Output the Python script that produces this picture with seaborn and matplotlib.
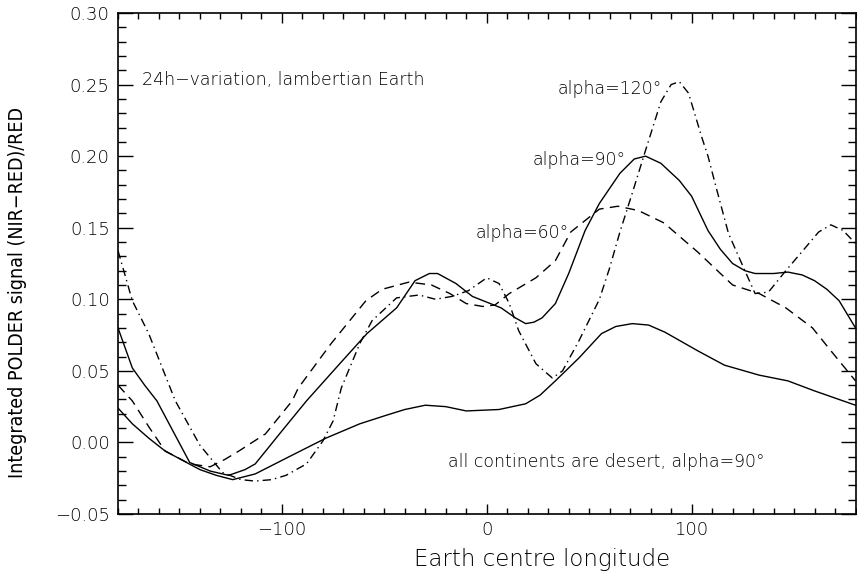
import matplotlib
matplotlib.use("Agg")
import matplotlib.pyplot as plt
import seaborn as sns
import numpy as np
import pandas as pd
from matplotlib.ticker import MultipleLocator, FuncFormatter

# ---- data ----
x_a90 = [-180, -173, -167, -161, -145, -135, -126, -118, -113, -100, -88, -73, -58.5, -44, -35,
         -28, -24, -15, -7, 0, 7, 14, 19, 23, 27, 33.5, 40, 48, 55, 65, 72, 77.5, 85, 94, 100,
         108, 114, 120, 126, 131, 140, 147, 154, 160, 166, 172, 180]
y_a90 = [0.080, 0.052, 0.040, 0.029, -0.014, -0.020, -0.023, -0.019, -0.015, 0.008, 0.029, 0.053,
         0.076, 0.094, 0.113, 0.118, 0.118, 0.111, 0.102, 0.098, 0.094, 0.087, 0.083, 0.084, 0.087,
         0.097, 0.118, 0.148, 0.167, 0.188, 0.198, 0.200, 0.195, 0.183, 0.172, 0.148, 0.135, 0.125,
         0.120, 0.118, 0.118, 0.119, 0.117, 0.113, 0.107, 0.099, 0.080]

x_a60 = [-180, -173, -165, -157, -145, -135, -128, -121, -108, -95, -92, -76, -59, -51, -38, -27,
         -18, -10, -2, 4, 11, 24, 33.5, 41, 55, 64, 74, 87, 90, 103, 120, 133, 146, 159, 168, 180]
y_a60 = [0.040, 0.029, 0.011, -0.006, -0.015, -0.017, -0.012, -0.006, 0.006, 0.029, 0.038, 0.069,
         0.099, 0.107, 0.112, 0.110, 0.104, 0.097, 0.095, 0.096, 0.104, 0.115, 0.127, 0.147, 0.163,
         0.165, 0.162, 0.153, 0.149, 0.133, 0.110, 0.104, 0.094, 0.080, 0.064, 0.043]

x_a120 = [-180, -173, -165, -152, -140, -129, -120, -113, -105, -98, -88, -80, -75, -71, -62, -56,
          -44, -33, -25, -17, -9, 0, 6, 11, 15.6, 24, 32, 37, 45, 55, 60, 65, 71, 77.5, 85, 90,
          94, 98.5, 105, 108, 112, 118, 126, 131, 137.5, 146, 155.5, 162, 168, 174, 180]
y_a120 = [0.134, 0.099, 0.076, 0.029, -0.002, -0.021, -0.026, -0.027, -0.026, -0.023, -0.015,
          0.001, 0.015, 0.038, 0.069, 0.085, 0.101, 0.103, 0.100, 0.102, 0.106, 0.115, 0.111, 0.097,
          0.078, 0.055, 0.045, 0.050, 0.071, 0.100, 0.122, 0.147, 0.174, 0.204, 0.238, 0.250, 0.252,
          0.244, 0.213, 0.200, 0.178, 0.146, 0.120, 0.104, 0.105, 0.120, 0.136, 0.147, 0.152, 0.148,
          0.139]

x_des = [-180, -173, -165, -157, -140, -132, -124, -113, -96.5, -78.5, -62, -49, -40, -30, -20,
         -10, 6, 19, 26, 33.5, 45, 56, 63, 71, 79, 87, 103, 116, 133, 147, 160, 170, 180]
y_des = [0.024, 0.013, 0.003, -0.006, -0.019, -0.023, -0.026, -0.022, -0.010, 0.003, 0.013, 0.019,
         0.023, 0.026, 0.025, 0.022, 0.023, 0.027, 0.033, 0.043, 0.059, 0.076, 0.081, 0.083, 0.082,
         0.077, 0.064, 0.054, 0.047, 0.043, 0.036, 0.031, 0.026]

x_major = [-100, 0, 100]
y_major = [-0.05, 0.00, 0.05, 0.10, 0.15, 0.20, 0.25, 0.30]

title_text = "24h\u2212variation, lambertian Earth"
lab_a120 = "alpha=120\u00b0"
lab_a90 = "alpha=90\u00b0"
lab_a60 = "alpha=60\u00b0"
lab_des = "all continents are desert, alpha=90\u00b0"
xlabel = "Earth centre longitude"
ylabel = "Integrated POLDER signal (NIR\u2212RED)/RED"

# ---- figure ----
sns.set_style("ticks")
plt.rcParams["font.family"] = ["DejaVu Sans"]
plt.rcParams["text.color"] = "black"
plt.rcParams["axes.labelcolor"] = "black"
plt.rcParams["xtick.color"] = "black"
plt.rcParams["ytick.color"] = "black"

fig = plt.figure(figsize=(8.57, 5.72), dpi=100)
ax = fig.add_axes([118 / 857, 1 - 514 / 572, (855.5 - 118) / 857, (514 - 13) / 572])

lw = 1.0
sns.lineplot(x=x_a90, y=y_a90, ax=ax, color="black", lw=lw, estimator=None, sort=False)
sns.lineplot(x=x_a60, y=y_a60, ax=ax, color="black", lw=lw, estimator=None, sort=False,
             linestyle=(0, (7, 4.5)))
sns.lineplot(x=x_a120, y=y_a120, ax=ax, color="black", lw=lw, estimator=None, sort=False,
             linestyle=(0, (6, 3, 1, 3)))
sns.lineplot(x=x_des, y=y_des, ax=ax, color="black", lw=lw, estimator=None, sort=False)

ax.set_xlim(-180, 180)
ax.set_ylim(-0.05, 0.30)
ax.set_xticks(x_major)
ax.set_yticks(y_major)
ax.xaxis.set_minor_locator(MultipleLocator(10))
ax.yaxis.set_minor_locator(MultipleLocator(0.01))
ax.yaxis.set_major_formatter(FuncFormatter(lambda v, p: f"{v:.2f}".replace("-", "\u2212")))

for s in ax.spines.values():
    s.set_visible(True)
    s.set_linewidth(1.2)
    s.set_color("black")

ax.tick_params(axis="both", which="both", direction="in", top=True, right=True,
               colors="black", labelcolor="black", width=1.0)
ax.tick_params(axis="x", which="major", length=7.5, pad=5, labelsize=13)
ax.tick_params(axis="x", which="minor", length=4.5)
ax.tick_params(axis="y", which="major", length=11, pad=6, labelsize=13)
ax.tick_params(axis="y", which="minor", length=6)
for t in ax.get_xticklabels() + ax.get_yticklabels():
    t.set_fontweight("light")

ax.set_xlabel(xlabel, fontsize=16.5, fontweight="light", color="black")
ax.xaxis.set_label_coords(0.575, -0.068)
ax.set_ylabel(ylabel, fontsize=14, fontstretch="condensed", color="black")
ax.yaxis.set_label_coords(-0.124, 0.443)

tkw = dict(fontsize=12.5, fontweight="light", color="black", va="center")
ax.text(-168.3, 0.253, title_text, ha="left", **tkw)
ax.text(85.4, 0.247, lab_a120, ha="right", **tkw)
ax.text(67.8, 0.197, lab_a90, ha="right", **tkw)
ax.text(40.0, 0.1465, lab_a60, ha="right", **tkw)
ax.text(58.5, -0.0135, lab_des, ha="center", **tkw)

fig.savefig("out.png", dpi=100)
